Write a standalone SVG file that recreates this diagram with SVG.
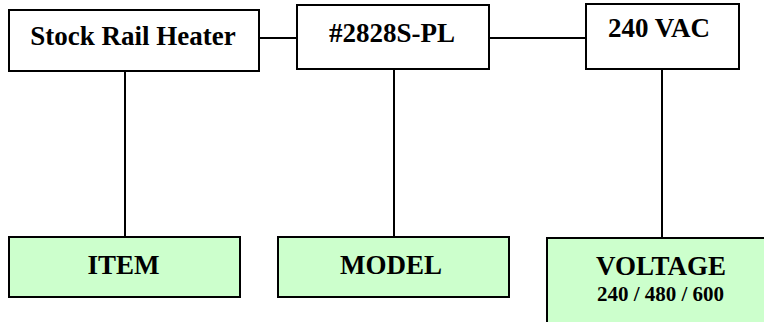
<svg xmlns="http://www.w3.org/2000/svg" width="764" height="322" viewBox="0 0 764 322">
<style>
.box{fill:#ffffff;stroke:#000000;stroke-width:2}
.green{fill:#ccffcc;stroke:#000000;stroke-width:2}
.lbl{font-family:"Liberation Serif","Times New Roman",serif;font-weight:bold;font-size:27px;fill:#000000;text-anchor:middle}
.sub{font-size:21px}
.conn{stroke:#000000;stroke-width:2;fill:none}
</style>
<rect width="764" height="322" fill="#ffffff"/>
<g id="connectors">
<line class="conn" x1="259" y1="38" x2="297" y2="38"/>
<line class="conn" x1="489" y1="38" x2="586" y2="38"/>
<line class="conn" x1="125" y1="71" x2="125" y2="237"/>
<line class="conn" x1="394" y1="69" x2="394" y2="237"/>
<line class="conn" x1="662" y1="69" x2="662" y2="237"/>
</g>
<g id="stock-rail-heater">
<rect class="box" x="9" y="10" width="250" height="61"/>
<text class="lbl" x="133" y="45">Stock Rail Heater</text>
</g>
<g id="model-number">
<rect class="box" x="297" y="5" width="192" height="64"/>
<text class="lbl" x="392" y="42">#2828S-PL</text>
</g>
<g id="vac">
<rect class="box" x="586" y="4" width="153" height="65"/>
<text class="lbl" x="659" y="37">240 VAC</text>
</g>
<g id="item">
<rect class="green" x="9" y="237" width="231" height="60"/>
<text class="lbl" x="123.5" y="274">ITEM</text>
</g>
<g id="model">
<rect class="green" x="278" y="237" width="231" height="60"/>
<text class="lbl" x="391" y="274">MODEL</text>
</g>
<g id="voltage">
<rect class="green" x="547" y="238" width="230" height="100"/>
<text class="lbl" x="661" y="275">VOLTAGE</text>
<text class="lbl sub" x="660.5" y="301">240 / 480 / 600</text>
</g>
</svg>
